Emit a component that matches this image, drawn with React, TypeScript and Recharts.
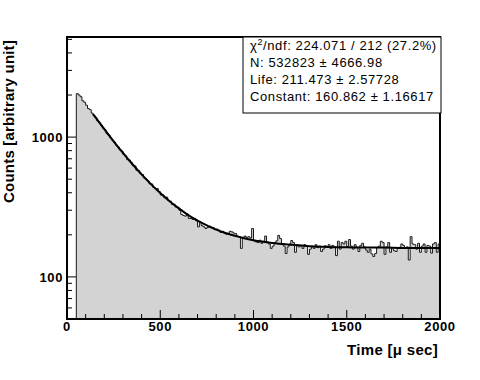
import React from "react";
import { Area, ComposedChart, Line, ReferenceArea, XAxis, YAxis } from "recharts";

// Histogram: counts per 10 µs bin, first bin starts at 50 µs.
const BIN_START = 50;
const BIN_WIDTH = 10;
const COUNTS = [
  2045, 2000, 1945, 1820, 1775, 1690, 1600, 1570, 1485, 1425,
  1380, 1305, 1270, 1215, 1160, 1125, 1060, 1035, 985, 950,
  920, 875, 850, 810, 795, 752, 735, 690, 685, 660,
  628, 622, 578, 575, 548, 540, 510, 500, 487, 463,
  462, 436, 430, 428, 408, 385, 386, 368, 372, 352,
  348, 330, 331, 316, 315, 300, 280, 275, 272, 282,
  262, 262, 258, 262, 252, 228, 246, 232, 228, 222,
  226, 231, 227, 225, 218, 220, 216, 208, 212, 206,
  202, 205, 212, 210, 206, 204, 196, 194, 160, 192,
  196, 192, 194, 190, 222, 181, 178, 176, 183, 174,
  180, 196, 178, 172, 160, 166, 175, 181, 198, 188,
  171, 166, 147, 164, 172, 182, 176, 150, 170, 164,
  168, 160, 170, 168, 145, 158, 166, 160, 170, 162,
  166, 152, 158, 167, 164, 170, 160, 168, 165, 142,
  180, 158, 176, 172, 180, 165, 185, 166, 158, 170,
  163, 152, 168, 174, 164, 156, 150, 158, 146, 140,
  147, 162, 166, 180, 176, 145, 164, 176, 150, 162,
  154, 152, 160, 163, 172, 168, 160, 164, 132, 194,
  172, 170, 158, 174, 150, 166, 172, 150, 168, 166,
  148, 172, 176, 150, 172,
];

// fitted curve
const FIT_T = [140, 160, 180, 200, 250, 300, 350, 400, 450, 500, 550, 600, 650, 700, 750, 800, 850, 900, 950, 1000, 1100, 1200, 1300, 1400, 1500, 1600, 1700, 1800, 1900, 2000];
const FIT_V = [1460, 1343, 1237, 1140, 933, 771, 642, 541, 461, 398, 348, 309, 277, 253, 234, 218, 206, 197, 189, 183, 175, 170, 166, 164, 163, 162, 162, 161, 161, 161];

const X_DOMAIN = [0, 2000];
const Y_DOMAIN = [50, 5200];
const X_TICKS = [0, 100, 200, 300, 400, 500, 600, 700, 800, 900, 1000, 1100, 1200, 1300, 1400, 1500, 1600, 1700, 1800, 1900, 2000];
const X_LABELS = [0, 500, 1000, 1500, 2000];
const Y_TICKS = [50, 60, 70, 80, 90, 100, 200, 300, 400, 500, 600, 700, 800, 900, 1000, 2000, 3000, 4000, 5000];
const Y_LABELS = [100, 1000];

const STATS = [
  "N: 532823 \u00b1 4666.98",
  "Life: 211.473 \u00b1 2.57728",
  "Constant: 160.862 \u00b1 1.16617",
];

const FONT = "'Liberation Sans', Arial, Helvetica, sans-serif";

const hist = [
  { t: BIN_START, v: Y_DOMAIN[0] },
  ...COUNTS.map((v, i) => ({ t: BIN_START + i * BIN_WIDTH, v })),
  { t: BIN_START + COUNTS.length * BIN_WIDTH, v: COUNTS[COUNTS.length - 1] },
];
const fit = FIT_T.map((t, i) => ({ t, v: FIT_V[i] }));

function XTick(props: any) {
  const { x, y, payload } = props;
  const major = X_LABELS.includes(payload.value);
  return (
    <g>
      <line x1={x} x2={x} y1={y} y2={y - (major ? 9 : 5)} stroke="#000" />
      {major && (
        <text x={x} y={y + 12} textAnchor="middle" fontFamily={FONT} fontWeight="bold" fontSize={13} letterSpacing={0.6} fill="#000">
          {payload.value}
        </text>
      )}
    </g>
  );
}

function YTick(props: any) {
  const { x, y, payload } = props;
  const major = Y_LABELS.includes(payload.value);
  return (
    <g>
      <line x1={x} x2={x + (major ? 9 : 5)} y1={y} y2={y} stroke="#000" />
      {major && (
        <text x={x - 4} y={y + 4.7} textAnchor="end" fontFamily={FONT} fontWeight="bold" fontSize={13} letterSpacing={0.6} fill="#000">
          {payload.value}
        </text>
      )}
    </g>
  );
}

export default function App() {
  return (
    <div style={{ position: "absolute", left: 0, top: 0, width: 480, height: 380, background: "#fff" }}>
      <ComposedChart width={480} height={380} data={hist} margin={{ top: 37, right: 40, bottom: 31, left: 0 }}>
        <XAxis
          dataKey="t"
          type="number"
          domain={X_DOMAIN}
          ticks={X_TICKS}
          interval={0}
          allowDataOverflow
          height={30}
          tickSize={0}
          tickMargin={0}
          axisLine={{ stroke: "#000", strokeWidth: 2 }}
          tick={<XTick />}
        />
        <YAxis
          type="number"
          scale="log"
          domain={Y_DOMAIN}
          ticks={Y_TICKS}
          interval={0}
          allowDataOverflow
          width={67}
          tickSize={0}
          tickMargin={0}
          axisLine={{ stroke: "#000", strokeWidth: 2 }}
          tick={<YTick />}
        />
        <Area
          type="stepAfter"
          dataKey="v"
          baseValue={Y_DOMAIN[0]}
          stroke="#1a1a1a"
          strokeWidth={1}
          fill="#d3d3d3"
          fillOpacity={1}
          isAnimationActive={false}
        />
        <Line
          data={fit}
          type="monotone"
          dataKey="v"
          stroke="#000"
          strokeWidth={2}
          dot={false}
          isAnimationActive={false}
        />
        <ReferenceArea
          x1={X_DOMAIN[0]}
          x2={X_DOMAIN[1]}
          y1={Y_DOMAIN[0]}
          y2={Y_DOMAIN[1]}
          fill="none"
          stroke="#000"
          strokeWidth={2}
        />
      </ComposedChart>

      <svg width={480} height={380} style={{ position: "absolute", left: 0, top: 0, pointerEvents: "none" }}>
        <text
          x={14}
          y={40}
          transform="rotate(-90 14 40)"
          textAnchor="end"
          fontFamily={FONT}
          fontWeight="bold"
          fontSize={15}
          letterSpacing={0.2}
        >
          Counts [arbitrary unit]
        </text>
        <text x={438} y={355} textAnchor="end" fontFamily={FONT} fontWeight="bold" fontSize={15} letterSpacing={0.3}>
          Time [{"\u03bc"} sec]
        </text>

        {/* stats box */}
        <rect x={243} y={37} width={198} height={76} fill="#fff" stroke="#000" strokeWidth={1} />
        <text x={250} y={49.5} fontFamily={FONT} fontSize={13} letterSpacing={0.6}>
          {"\u03c7"}
          <tspan dy={-5} fontSize={9}>2</tspan>
          <tspan dy={5}>/ndf: 224.071 / 212 (27.2%)</tspan>
        </text>
        {STATS.map((s, i) => (
          <text key={s} x={250} y={66.8 + i * 17.3} fontFamily={FONT} fontSize={13} letterSpacing={0.6}>
            {s}
          </text>
        ))}
      </svg>
    </div>
  );
}
